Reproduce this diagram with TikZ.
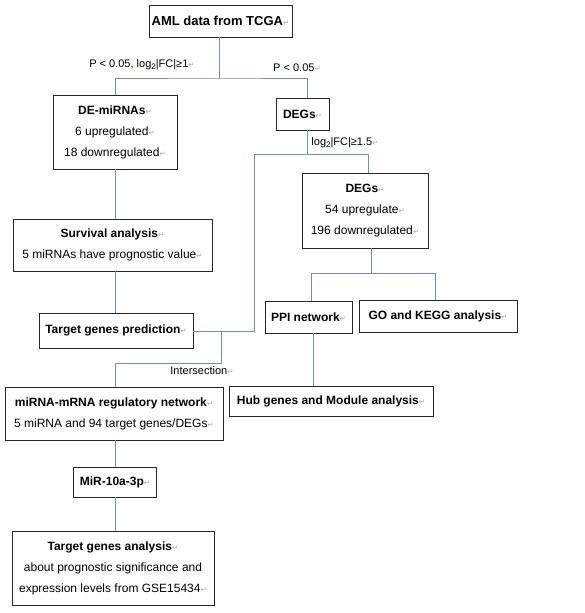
\documentclass[tikz,border=0pt]{standalone}
\usepackage{fontspec}
\setmainfont{Liberation Sans}
\newfontfamily\markfont{DejaVu Sans}
\usepackage{xcolor}
\usepackage{tikz}
\definecolor{linkblue}{HTML}{7090B2}
\definecolor{markgray}{HTML}{A8A8A8}
\newcommand{\rt}{{\markfont\color{markgray}\fontsize{7.5}{7.5}\selectfont ↵}}
\newcommand{\lgtwo}{log\raisebox{-1.5pt}{\fontsize{8}{8}\selectfont 2}}
\tikzset{
	box/.style={draw=black!85,line width=0.8pt,inner sep=0pt,align=center,
		font=\fontsize{12}{21}\selectfont},
	link/.style={draw=linkblue,line width=0.9pt},
	lbl/.style={inner sep=0pt,font=\fontsize{11}{12}\selectfont}
}
\begin{document}
\begin{tikzpicture}[x=1pt,y=-1pt]
	\useasboundingbox (0,0) rectangle (585,613);
	% boxes
	\node[box,minimum width=143,minimum height=32,font=\fontsize{13}{13}\selectfont] (aml) at (220.5,21) {\textbf{AML data from TCGA}\rt};
	\node[box,minimum width=124,minimum height=74] (demir) at (115,132) {\textbf{DE-miRNAs}\rt\\6 upregulated\rt\\18 downregulated\rt};
	\node[box,minimum width=53,minimum height=32] (degs) at (302.5,114) {\textbf{DEGs}\rt};
	\node[box,minimum width=126,minimum height=75] (degsb) at (365,210.5) {\textbf{DEGs}\rt\\54 upregulate\rt\\196 downregulated\rt};
	\node[box,minimum width=199,minimum height=52] (surv) at (112.5,245) {\textbf{Survival analysis}\rt\\5 miRNAs have prognostic value\rt};
	\node[box,minimum width=154,minimum height=35] (pred) at (116,330.5) {\textbf{Target genes prediction}\rt};
	\node[box,minimum width=87,minimum height=32] (ppi) at (308.5,317) {\textbf{PPI network}\rt};
	\node[box,minimum width=158,minimum height=32] (gokegg) at (438,316) {\textbf{GO and KEGG analysis}\rt};
	\node[box,minimum width=204,minimum height=30] (hub) at (331,401) {\textbf{Hub genes and Module analysis}\rt};
	\node[box,minimum width=218,minimum height=53] (net) at (114,413.5) {\textbf{miRNA-mRNA regulatory network}\rt\\5 miRNA and 94 target genes/DEGs\rt};
	\node[box,minimum width=83,minimum height=30] (mir) at (115,482) {\textbf{MiR-10a-3p}\rt};
	\node[box,minimum width=202,minimum height=74] (tga) at (113,568) {\textbf{Target genes analysis}\rt\\about prognostic significance and\\expression levels from GSE15434\rt};
	% labels
	\node[lbl] (l1) at (142,65) {P < 0.05, \lgtwo|FC|≥1\rt};
	\node[lbl] (l2) at (297,68) {P < 0.05\rt};
	\node[lbl] (l3) at (345,143) {\lgtwo|FC|≥1.5\rt};
	\node[lbl] (l4) at (202,371) {Intersection\rt};
	% split points
	\coordinate (s1) at (219,78);
	\coordinate (s2) at (307,154);
	\coordinate (s2l) at (254,154);
	\coordinate (s2r) at (368,154);
	\coordinate (s3) at (371,273);
	\coordinate (s3l) at (311,273);
	\coordinate (s3r) at (435,273);
	\coordinate (s4) at (221,331);
	\coordinate (s5) at (221,363);
	\coordinate (s6) at (313,333);
	% connectors
	\draw[link] (aml.south -| s1) -- (s1);
	\draw[link] (demir.north) |- (s1) -| (degs.north -| s2);
	\draw[link] (degs.south -| s2) -- (s2);
	\draw[link] (s2l) -- (s2r) -- (degsb.north -| s2r);
	\draw[link] (s2l) |- (pred.east |- s4);
	\draw[link] (demir.south) -- (surv.north -| demir.south);
	\draw[link] (surv.south -| demir.south) -- (pred.north -| demir.south);
	\draw[link] (s4) -- (s5) -| (net.north -| demir.south);
	\draw[link] (degsb.south -| s3) -- (s3);
	\draw[link] (ppi.north -| s3l) |- (s3r) -- (gokegg.north -| s3r);
	\draw[link] (s6) -- (hub.north -| s6);
	\draw[link] (net.south -| demir.south) -- (mir.north);
	\draw[link] (mir.south) -- (tga.north -| mir.south);
\end{tikzpicture}
\end{document}
